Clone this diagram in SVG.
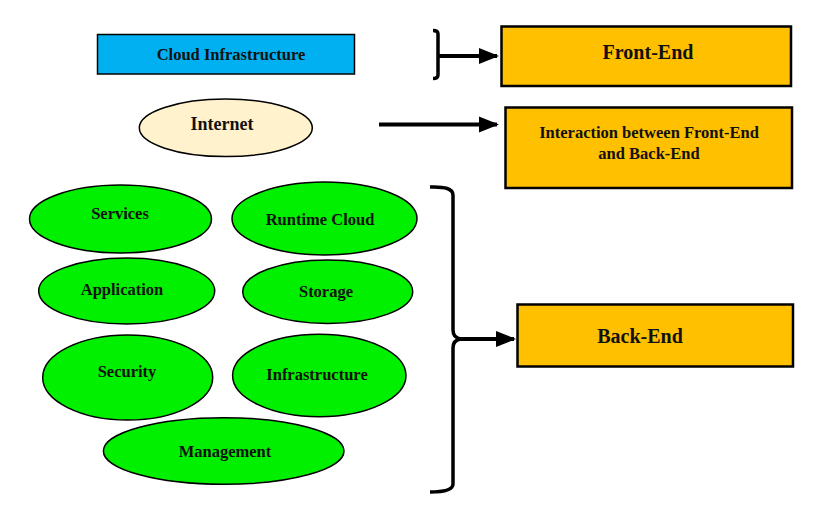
<svg xmlns="http://www.w3.org/2000/svg" width="822" height="518" viewBox="0 0 822 518">
<style>
  .t { font-family: "Liberation Serif", "Times New Roman", serif; font-weight: bold; fill: #111; text-anchor: middle; }
  .g { fill: #00f000; stroke: #000; stroke-width: 1.5; }
  .o { fill: #ffc000; stroke: #000; stroke-width: 2.5; }
  .c { fill: none; stroke: #000; stroke-width: 4; }
  .b { fill: none; stroke: #000; stroke-width: 3.5; }
</style>
<defs>
  <marker id="ah" markerWidth="5" markerHeight="5" refX="4.5" refY="2" orient="auto" markerUnits="strokeWidth" viewBox="0 0 5 4">
    <path d="M0,0 L5,2 L0,4 Z" fill="#000"/>
  </marker>
</defs>
<rect width="822" height="518" fill="#fff"/>

<g id="cloud-infrastructure">
  <rect x="97.5" y="34.5" width="257" height="39.5" fill="#00b0f0" stroke="#000" stroke-width="1.5"/>
  <text class="t" x="231" y="60" font-size="16.5">Cloud Infrastructure</text>
</g>
<g id="internet">
  <ellipse cx="225.8" cy="127.8" rx="86.5" ry="28.8" fill="#fff2cc" stroke="#000" stroke-width="1.5"/>
  <text class="t" x="222" y="130" font-size="18">Internet</text>
</g>
<g id="front-end">
  <rect x="501.5" y="26.5" width="289.5" height="59.5" class="o"/>
  <text class="t" x="648" y="59" font-size="20">Front-End</text>
</g>
<g id="interaction">
  <rect x="505.5" y="107.5" width="286.5" height="80.5" class="o"/>
  <text class="t" x="649" y="138" font-size="16.5">Interaction between Front-End</text>
  <text class="t" x="649" y="159" font-size="16.5">and Back-End</text>
</g>
<g id="back-end">
  <rect x="517.5" y="304.5" width="275.5" height="62" class="o"/>
  <text class="t" x="640" y="343" font-size="20">Back-End</text>
</g>

<g id="services">
  <ellipse class="g" cx="120.5" cy="219" rx="91" ry="34"/>
  <text class="t" x="120" y="219" font-size="16.5">Services</text>
</g>
<g id="runtime-cloud">
  <ellipse class="g" cx="324.5" cy="218.5" rx="92.5" ry="36.5"/>
  <text class="t" x="320" y="225" font-size="16.5">Runtime Cloud</text>
</g>
<g id="application">
  <ellipse class="g" cx="126.7" cy="291" rx="88" ry="33"/>
  <text class="t" x="122" y="295" font-size="16.5">Application</text>
</g>
<g id="storage">
  <ellipse class="g" cx="327.7" cy="291.7" rx="85" ry="31.7"/>
  <text class="t" x="326" y="297" font-size="16.5">Storage</text>
</g>
<g id="security">
  <ellipse class="g" cx="127.7" cy="377.5" rx="85" ry="42.5"/>
  <text class="t" x="127" y="377" font-size="16.5">Security</text>
</g>
<g id="infrastructure">
  <ellipse class="g" cx="319.3" cy="375.5" rx="86.7" ry="41.2"/>
  <text class="t" x="317" y="380" font-size="16.5">Infrastructure</text>
</g>
<g id="management">
  <ellipse class="g" cx="223.7" cy="451" rx="120.3" ry="33.3"/>
  <text class="t" x="225" y="457" font-size="16.5">Management</text>
</g>

<g id="connectors">
  <path class="b" d="M433,30.5 Q438,30.5 438,34 L438,75 Q438,78.5 433,78.5"/>
  <path class="c" d="M438,56 L497,56" marker-end="url(#ah)"/>
  <path class="c" d="M379,124.5 L497,124.5" marker-end="url(#ah)"/>
  <path class="b" d="M430,187 Q453,186 453,195 L453,330 Q453,338 461,339 Q453,340 453,348 L453,484 Q453,492 430,492"/>
  <path class="c" d="M458,339 L514,339" marker-end="url(#ah)"/>
</g>
</svg>
